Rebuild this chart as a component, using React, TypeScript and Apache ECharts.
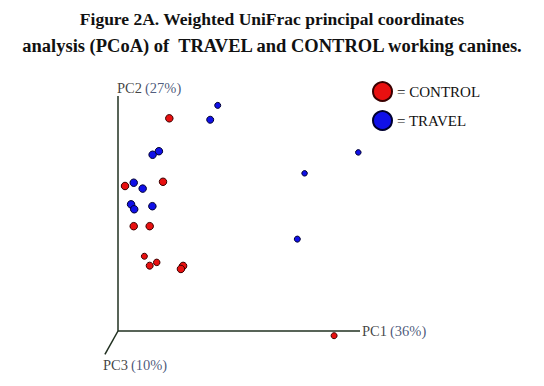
import React, { useEffect, useRef } from "react";
import * as echarts from "echarts";

// PCoA scores in arbitrary plot units (PC1 axis spans 0..100, PC2 axis spans 0..100)
const controlPC1 = [21.2, 2.9, 18.6, 6.5, 13.1, 10.9, 13.1, 16.0, 26.9, 26.0, 89.3];
const controlPC2 = [90.5, 61.7, 63.5, 44.6, 44.6, 31.8, 27.8, 29.2, 27.7, 26.4, -2.0];
const controlSize = [7.5, 7.5, 7.5, 7.5, 7.5, 6, 7, 6.5, 7.5, 7.5, 6];

const travelPC1 = [41.2, 38.1, 16.9, 14.3, 6.5, 10.2, 5.4, 6.7, 14.2, 99.3, 77.1, 74.1];
const travelPC2 = [96.0, 89.9, 76.5, 75.0, 63.1, 60.6, 53.9, 51.8, 53.1, 76.0, 67.1, 39.1];
const travelSize = [6, 7, 7.5, 7.5, 7.5, 7.5, 7.5, 7.5, 7.5, 5.5, 5.5, 6];

const axisNames = ["PC1", "PC2", "PC3"];
const axisPercents = ["36%", "27%", "10%"];
const axisEnds = [
  [100, 0],
  [0, 100],
  [-5.4, -9.9],
];

const titleLines = [
  "Figure 2A. Weighted UniFrac principal coordinates",
  "analysis (PCoA) of  TRAVEL and CONTROL working canines.",
];

const AXIS_COLOR = "#203020";
const FONT = "Liberation Serif";

export default function App() {
  const ref = useRef<HTMLDivElement>(null);
  useEffect(() => {
    if (!ref.current) return;
    const chart = echarts.init(ref.current, undefined, { renderer: "svg" });
    const mk = (xs: number[], ys: number[], ss: number[]) =>
      xs.map((x, i) => ({ value: [x, ys[i]], symbolSize: ss[i] }));
    const axisLineSeries = axisEnds.map((end, i) => ({
      type: "line",
      name: "axis" + i,
      data: [[0, 0], end],
      symbol: "none",
      silent: true,
      lineStyle: { color: AXIS_COLOR, width: 1.5 },
      z: 1,
    }));
    const labelPositions: any[] = [
      { position: "right", distance: 2, align: "left", verticalAlign: "middle", offset: [0, 0] },
      { position: "top", distance: 1, align: "left", offset: [-1, 0] },
      { position: "bottom", distance: 3, align: "left", offset: [-2, 0] },
    ];
    const titleSizes = [17.5, 18.5];
    const titleTops = [10, 36];
    const option: any = {
      animation: false,
      backgroundColor: "#ffffff",
      textStyle: { fontFamily: FONT },
      title: titleLines.map((t, i) => ({
        text: t,
        left: "center",
        top: titleTops[i],
        padding: 0,
        textStyle: {
          fontFamily: FONT,
          fontWeight: "bold",
          fontSize: titleSizes[i],
          color: "#111111",
        },
      })),
      legend: {
        orient: "vertical",
        left: 372,
        top: 81,
        padding: 0,
        itemWidth: 19,
        itemHeight: 19,
        itemGap: 8,
        icon: "circle",
        data: ["CONTROL", "TRAVEL"],
        formatter: "= {name}",
        textStyle: { fontFamily: FONT, fontSize: 15, color: "#111111" },
      },
      grid: { left: 93.8, right: 135.6, top: 96, bottom: 19.75 },
      xAxis: { type: "value", min: -10, max: 120, show: false },
      yAxis: { type: "value", min: -15, max: 100, show: false },
      series: [
        ...axisLineSeries,
        {
          type: "scatter",
          name: "axisNames",
          silent: true,
          symbolSize: 0,
          data: axisEnds.map((end, i) => ({
            value: end,
            label: {
              show: true,
              formatter: `{a|${axisNames[i]}} {b|(${axisPercents[i]})}`,
              ...labelPositions[i],
              rich: {
                a: { fontFamily: FONT, fontSize: 14.5, color: "#111111" },
                b: { fontFamily: FONT, fontSize: 14.5, color: "#22305a" },
              },
            },
          })),
          z: 2,
        },
        {
          type: "scatter",
          name: "CONTROL",
          data: mk(controlPC1, controlPC2, controlSize),
          itemStyle: { color: "#e81010", borderColor: "#3a0000", borderWidth: 1, opacity: 1 },
          z: 3,
        },
        {
          type: "scatter",
          name: "TRAVEL",
          data: mk(travelPC1, travelPC2, travelSize),
          itemStyle: { color: "#1010e8", borderColor: "#000030", borderWidth: 1, opacity: 1 },
          z: 3,
        },
      ],
    };
    chart.setOption(option);
    return () => chart.dispose();
  }, []);
  return (
    <div
      ref={ref}
      style={{ position: "absolute", left: 0, top: 0, width: 544, height: 386 }}
    />
  );
}
